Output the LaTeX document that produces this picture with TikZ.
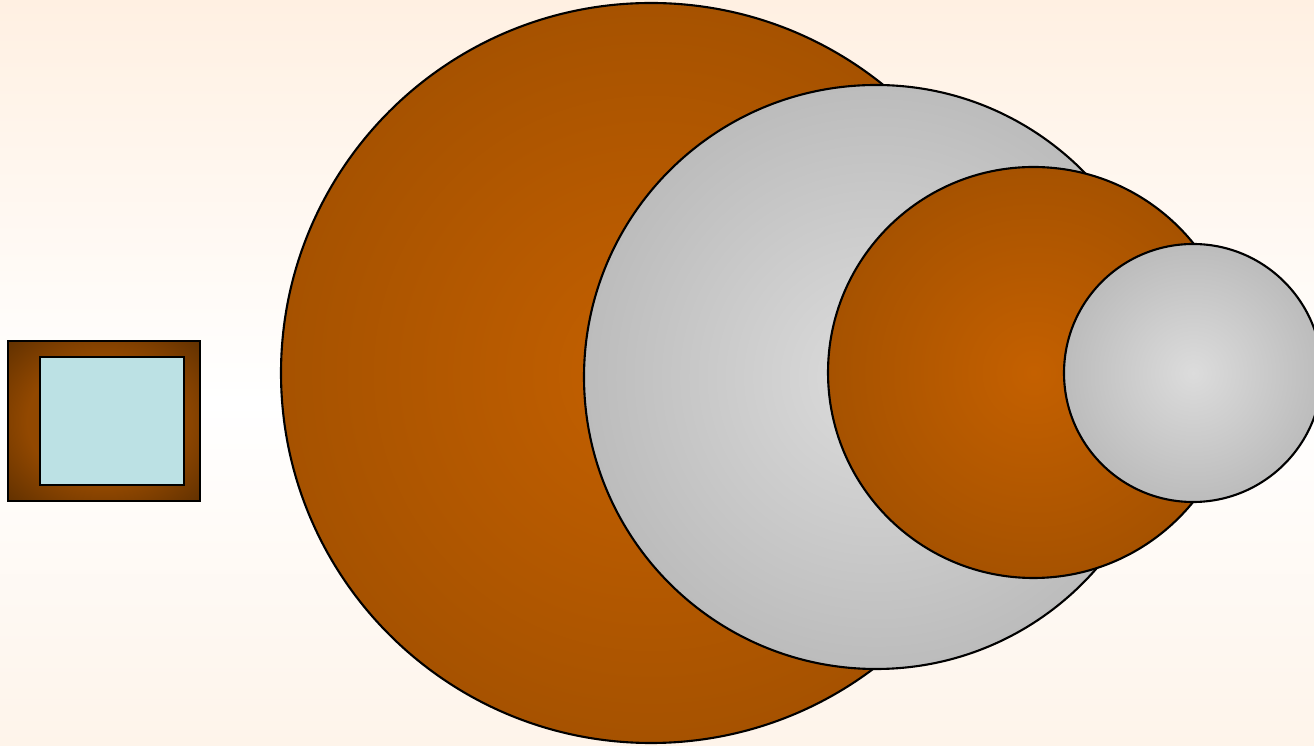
\documentclass[tikz,border=0pt]{standalone}
\usepackage{tikz}
\usetikzlibrary{shapes.geometric, positioning}

\definecolor{bgtop}{RGB}{255,240,226}
\definecolor{bgbot}{RGB}{254,244,234}
\definecolor{rustin}{RGB}{196,96,0}
\definecolor{rustout}{RGB}{166,82,0}
\definecolor{greyin}{RGB}{220,220,220}
\definecolor{greyout}{RGB}{188,188,188}
\definecolor{framein}{RGB}{146,72,0}
\definecolor{frameout}{RGB}{96,48,0}
\definecolor{pane}{RGB}{188,225,228}

% TikZ fits the middle 50bp of a shading to the path
\pgfdeclareverticalshading{bgshade}{100bp}{color(0bp)=(bgbot); color(25bp)=(bgbot); color(48bp)=(white); color(75bp)=(bgtop); color(100bp)=(bgtop)}
\pgfdeclareradialshading{rustshade}{\pgfpoint{0bp}{0bp}}{color(0bp)=(rustin); color(25bp)=(rustout); color(50bp)=(rustout)}
\pgfdeclareradialshading{greyshade}{\pgfpoint{0bp}{0bp}}{color(0bp)=(greyin); color(25bp)=(greyout); color(50bp)=(greyout)}
\pgfdeclareradialshading{frameshade}{\pgfpoint{0bp}{0bp}}{color(0bp)=(framein); color(20bp)=(framein); color(36bp)=(frameout); color(50bp)=(frameout)}

\begin{document}
\begin{tikzpicture}[
    ball/.style={circle, draw=black, line width=0.6pt, inner sep=0pt},
    frame/.style={rectangle, draw=black, line width=0.7pt, inner sep=0pt}
]
% background
\shade[shading=bgshade] (0,0) rectangle (13.14,7.45);
\useasboundingbox (0,0) rectangle (13.14,7.45);
% small framed box on the left
\node[frame, shading=frameshade, minimum width=1.92cm, minimum height=1.60cm] (box) at (1.04,3.24) {};
\node[frame, fill=pane, minimum width=1.44cm, minimum height=1.28cm] (pane) at (1.12,3.24) {};
% circles, largest first
\foreach \x/\y/\d/\shd/\nm in {6.51/3.72/7.40/rustshade/ballA, 8.76/3.68/5.84/greyshade/ballB,
    10.335/3.725/4.11/rustshade/ballC, 11.93/3.72/2.58/greyshade/ballD}{
    \node[ball, shading=\shd, minimum size=\d cm] (\nm) at (\x,\y) {};
}
\end{tikzpicture}
\end{document}
